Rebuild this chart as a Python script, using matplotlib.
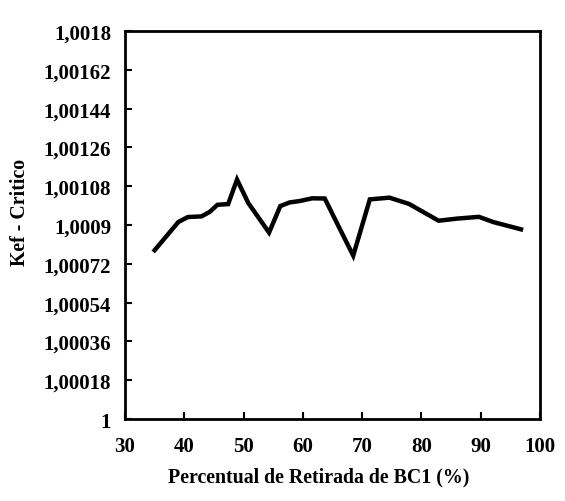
import matplotlib
matplotlib.use("Agg")
import matplotlib.pyplot as plt

# Data
retirada = [35.0, 39.0, 40.6, 42.9, 44.3, 45.6, 47.4, 48.9, 50.8, 54.3, 56.2, 57.8,
            59.4, 61.6, 63.7, 65.9, 68.5, 71.3, 74.6, 77.9, 82.9, 86.1, 89.7, 92.1, 96.8]
kef = [1.000783, 1.000914, 1.000937, 1.000940, 1.000961, 1.000994, 1.000997, 1.001111,
       1.001002, 1.000865, 1.000988, 1.001005, 1.001011, 1.001024, 1.001023, 1.000901,
       1.000758, 1.001019, 1.001027, 1.000998, 1.000920, 1.000930, 1.000938, 1.000914,
       1.000880]

x_ticks = [30, 40, 50, 60, 70, 80, 90, 100]
y_ticks = [1.0, 1.00018, 1.00036, 1.00054, 1.00072, 1.0009, 1.00108, 1.00126,
           1.00144, 1.00162, 1.0018]
y_tick_labels = ["1", "1,00018", "1,00036", "1,00054", "1,00072", "1,0009",
                 "1,00108", "1,00126", "1,00144", "1,00162", "1,0018"]
x_label = "Percentual de Retirada de BC1 (%)"
y_label = "Kef - Critico"

plt.rcParams['font.family'] = ['Liberation Serif', 'DejaVu Serif']
plt.rcParams['font.weight'] = 'bold'

fig = plt.figure(figsize=(5.65, 5.02), dpi=100)
ax = fig.add_axes([0.2212, 0.1633, 0.7345, 0.7729])

ax.plot(retirada, kef, color='black', linewidth=3.2, solid_joinstyle='miter')

ax.set_xlim(30, 100)
ax.set_ylim(1.0, 1.0018)
ax.set_xticks(x_ticks)
ax.set_xticklabels([str(v) for v in x_ticks])
ax.set_yticks(y_ticks)
ax.set_yticklabels(y_tick_labels)

for s in ax.spines.values():
    s.set_linewidth(2.0)
    s.set_color('black')

ax.tick_params(axis='both', direction='in', length=5, width=1.5, colors='black',
               labelsize=15)
ax.tick_params(axis='x', pad=12)
ax.tick_params(axis='y', pad=10)
for lbl in ax.get_xticklabels() + ax.get_yticklabels():
    lbl.set_fontweight('bold')

ax.set_xlabel(x_label, fontsize=14.3, fontweight='bold')
ax.set_ylabel(y_label, fontsize=14.3, fontweight='bold')
ax.xaxis.set_label_coords(0.467, -0.147)
ax.xaxis.label.set_verticalalignment('center')
ax.yaxis.set_label_coords(-0.253, 0.536)
ax.yaxis.label.set_verticalalignment('center')

fig.savefig("out.png", dpi=100)
